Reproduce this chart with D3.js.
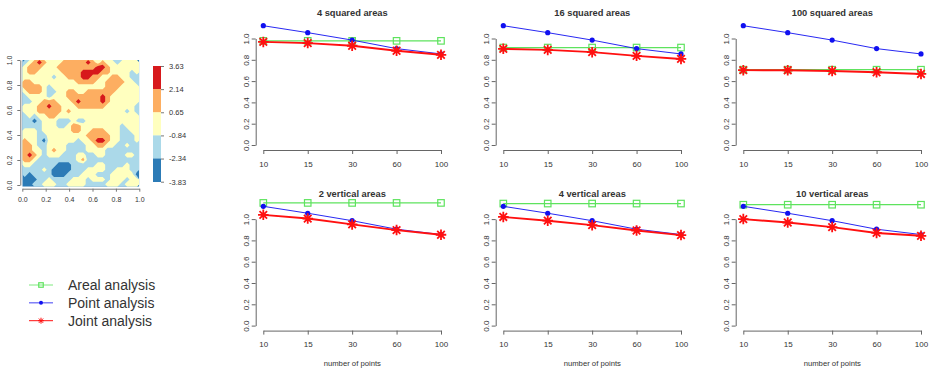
<!DOCTYPE html>
<html>
<head>
<meta charset="utf-8">
<script src="https://cdn.jsdelivr.net/npm/d3@7"></script>
<style>
  body { margin: 0; background: #fff; }
  text { font-family: "Liberation Sans", Arial, sans-serif; fill: #333; }
</style>
</head>
<body>
<div id="chart"></div>
<script>
// --- Données ---
const nPoints = ["10", "15", "30", "60", "100"];
const titles = ["4 squared areas", "16 squared areas", "100 squared areas",
                "2 vertical areas", "4 vertical areas", "10 vertical areas"];

// une ligne par panneau
const areal = [
  [0.978, 0.978, 0.978, 0.978, 0.978],
  [0.915, 0.915, 0.915, 0.915, 0.915],
  [0.707, 0.707, 0.707, 0.707, 0.707],
  [1.152, 1.152, 1.152, 1.152, 1.152],
  [1.146, 1.146, 1.146, 1.146, 1.146],
  [1.135, 1.135, 1.135, 1.135, 1.135]
];
const pointAn = [
  [1.12, 1.055, 0.985, 0.905, 0.855],
  [1.12, 1.055, 0.985, 0.905, 0.855],
  [1.12, 1.055, 0.985, 0.905, 0.855],
  [1.12, 1.055, 0.985, 0.905, 0.855],
  [1.12, 1.055, 0.985, 0.905, 0.855],
  [1.12, 1.055, 0.985, 0.905, 0.855]
];
const joint = [
  [0.968, 0.957, 0.932, 0.885, 0.847],
  [0.903, 0.893, 0.872, 0.837, 0.808],
  [0.703, 0.702, 0.695, 0.683, 0.667],
  [1.040, 1.005, 0.950, 0.897, 0.853],
  [1.020, 0.985, 0.943, 0.893, 0.850],
  [1.000, 0.968, 0.925, 0.870, 0.843]
];
const yTicks = [0, 0.2, 0.4, 0.6, 0.8, 1.0];

// carte : classes 0..4 (24 colonnes x 26 lignes, haut -> bas)
const fieldRows = [
  "123432223333343232212222",
  "233322233333333443222222",
  "233222223333444433222212",
  "222222122333443322332211",
  "332222222223333223333221",
  "333321222222222223332222",
  "233321122332233333322222",
  "122221222333333343222222",
  "112233322234333343222222",
  "222334332223333332222221",
  "222333332322222222222121",
  "121223322222222222222222",
  "110122211121122222222222",
  "111122211233222222221222",
  "222122222233223332221122",
  "222112222222233333221112",
  "322102222221223443221112",
  "332112222111122332211211",
  "332212322111122221111111",
  "343212221112211221111221",
  "332111111112311111111111",
  "221111100011111221111211",
  "111121000011122221122211",
  "101111000111222111222220",
  "000112111122212221222122",
  "001122211222211112221222"
];
const breaks = ["3.63", "2.14", "0.65", "-0.84", "-2.34", "-3.83"];
const classColors = ["#2c7bb6", "#abd9e9", "#ffffbf", "#fdae61", "#d7191c"];
const mapTicks = ["0.0", "0.2", "0.4", "0.6", "0.8", "1.0"];

const seriesNames = ["Areal analysis", "Point analysis", "Joint analysis"];
const seriesColors = ["#5ee35e", "#1010f0", "#ff1010"];

// --- SVG ---
const svg = d3.select("#chart").append("svg")
  .attr("width", 932).attr("height", 380);

// --- Carte ---
const nCols = fieldRows[0].length, nRows = fieldRows.length;
const values = [];
fieldRows.forEach(r => r.split("").forEach(ch => values.push(+ch)));

const map = { x: 22.3, y: 60, w: 117, h: 126.7 };
svg.append("clipPath").attr("id", "mapclip")
  .append("rect").attr("x", map.x).attr("y", map.y).attr("width", map.w).attr("height", map.h);

const mapG = svg.append("g").attr("clip-path", "url(#mapclip)");
mapG.append("rect").attr("x", map.x).attr("y", map.y).attr("width", map.w).attr("height", map.h)
  .attr("fill", classColors[0]);

const contours = d3.contours().size([nCols, nRows]).thresholds([0.5, 1.5, 2.5, 3.5])(values);
mapG.append("g")
  .attr("transform", `translate(${map.x},${map.y}) scale(${map.w / nCols},${map.h / nRows})`)
  .selectAll("path")
  .data(contours)
  .join("path")
  .attr("d", d3.geoPath())
  .attr("fill", (d, i) => classColors[i + 1]);

// axes de la carte
const mx = d3.scalePoint().domain(mapTicks).range([map.x, map.x + map.w]);
const my = d3.scalePoint().domain(mapTicks).range([map.y + 125, map.y]);
svg.append("g").attr("transform", `translate(0,${map.y + map.h + 2})`)
  .call(d3.axisBottom(mx).tickSize(3).tickSizeOuter(0).tickPadding(5))
  .call(g => g.selectAll("line,path").attr("stroke", "#777"))
  .call(g => g.selectAll("text").style("font-size", "7px").attr("fill", "#333"));
svg.append("g").attr("transform", `translate(${map.x - 2},0)`)
  .call(d3.axisLeft(my).tickSize(3).tickSizeOuter(0))
  .call(g => g.selectAll("line,path").attr("stroke", "#777"))
  .call(g => g.selectAll("text")
    .style("font-size", "7px").attr("fill", "#333")
    .attr("text-anchor", "middle")
    .attr("x", 0).attr("dy", null).attr("y", -8)
    .attr("transform", "rotate(-90)"));

// barre de couleur
const cb = { x: 153, y: 66, w: 8, h: 115.7 };
const cy = d3.scalePoint().domain(breaks).range([cb.y, cb.y + cb.h]);
const step = cb.h / classColors.length;
svg.append("g").selectAll("rect")
  .data(classColors.slice().reverse())
  .join("rect")
  .attr("x", cb.x).attr("y", (d, i) => cb.y + i * step)
  .attr("width", cb.w).attr("height", step + 0.3)
  .attr("fill", d => d);
svg.append("g").attr("transform", `translate(${cb.x + cb.w},0)`)
  .call(d3.axisRight(cy).tickSize(3).tickSizeOuter(0).tickPadding(5))
  .call(g => g.select(".domain").remove())
  .call(g => g.selectAll("line").attr("stroke", "#777"))
  .call(g => g.selectAll("text").style("font-size", "7.5px").attr("fill", "#333"));

// --- Marqueurs ---
function drawSquare(g, x, y, s, color) {
  g.append("rect").attr("x", x - s / 2).attr("y", y - s / 2)
    .attr("width", s).attr("height", s)
    .attr("fill", "none").attr("stroke", color).attr("stroke-width", 1.2);
}
function drawDot(g, x, y, r, color) {
  g.append("circle").attr("cx", x).attr("cy", y).attr("r", r).attr("fill", color);
}
function drawStar(g, x, y, s, color, w) {
  const a = s / 2, b = s / 2 * 0.72;
  const p = `M${x - a},${y}L${x + a},${y}M${x},${y - a}L${x},${y + a}` +
            `M${x - b},${y - b}L${x + b},${y + b}M${x - b},${y + b}L${x + b},${y - b}`;
  g.append("path").attr("d", p).attr("stroke", color).attr("stroke-width", w).attr("fill", "none");
}

// --- Petits graphiques ---
titles.forEach((title, k) => {
  const col = k % 3, row = Math.floor(k / 3);
  const x0 = 220 + col * 240, y0 = row * 180.6;
  const g = svg.append("g").attr("transform", `translate(${x0},${y0})`);

  const x = d3.scalePoint().domain(nPoints).range([43.3, 221]);
  const y = d3.scaleLinear().domain([0, 1]).range([145, 38.5]);

  // axe X
  g.append("g").attr("transform", "translate(0,150)")
    .call(d3.axisBottom(x).tickSize(4).tickSizeOuter(0).tickPadding(7))
    .call(a => a.selectAll("line,path").attr("stroke", "#666"))
    .call(a => a.selectAll("text").style("font-size", "8px").attr("fill", "#333"));

  // axe Y
  g.append("g").attr("transform", "translate(35.7,0)")
    .call(d3.axisLeft(y).tickValues(yTicks).tickFormat(d3.format(".1f")).tickSize(4).tickSizeOuter(0))
    .call(a => a.selectAll("line,path").attr("stroke", "#666"))
    .call(a => a.selectAll("text")
      .style("font-size", "8px").attr("fill", "#333")
      .attr("text-anchor", "middle")
      .attr("x", null).attr("dy", null)
      .attr("transform", "translate(-10,0) rotate(-90)")
      .attr("y", 3));

  // titre
  g.append("text").attr("x", 132.3).attr("y", 16)
    .attr("text-anchor", "middle")
    .style("font-size", "9.3px").style("font-weight", "bold").attr("fill", "#222")
    .text(title);

  if (row === 1) {
    g.append("text").attr("x", 132.3).attr("y", 185.5)
      .attr("text-anchor", "middle")
      .style("font-size", "7.7px").attr("fill", "#333")
      .text("number of points");
  }

  const line = d3.line().x((d, i) => x(nPoints[i])).y(d => y(d));

  // aréal
  g.append("path").attr("d", line(areal[k])).attr("fill", "none")
    .attr("stroke", seriesColors[0]).attr("stroke-width", 1.3);
  areal[k].forEach((v, i) => drawSquare(g, x(nPoints[i]), y(v), 6.5, seriesColors[0]));

  // ponctuel
  g.append("path").attr("d", line(pointAn[k])).attr("fill", "none")
    .attr("stroke", seriesColors[1]).attr("stroke-width", 0.9);
  pointAn[k].forEach((v, i) => drawDot(g, x(nPoints[i]), y(v), 2.6, seriesColors[1]));

  // joint
  g.append("path").attr("d", line(joint[k])).attr("fill", "none")
    .attr("stroke", seriesColors[2]).attr("stroke-width", 1.9);
  joint[k].forEach((v, i) => drawStar(g, x(nPoints[i]), y(v), 10.5, seriesColors[2], 1.8));
});

// --- Légende ---
const legY = d3.scalePoint().domain(seriesNames).range([285, 320.7]);
const leg = svg.append("g");
seriesNames.forEach((name, i) => {
  const yy = legY(name);
  leg.append("line").attr("x1", 29).attr("x2", 53).attr("y1", yy).attr("y2", yy)
    .attr("stroke", seriesColors[i]).attr("stroke-width", i === 2 ? 1 : 0.8);
  if (i === 0) drawSquare(leg, 41, yy, 4.5, seriesColors[0]);
  if (i === 1) drawDot(leg, 41, yy, 2, seriesColors[1]);
  if (i === 2) drawStar(leg, 41, yy, 6, seriesColors[2], 1);
  leg.append("text").attr("x", 68).attr("y", yy + 5)
    .style("font-size", "14px").attr("fill", "#222")
    .text(name);
});
</script>
</body>
</html>
